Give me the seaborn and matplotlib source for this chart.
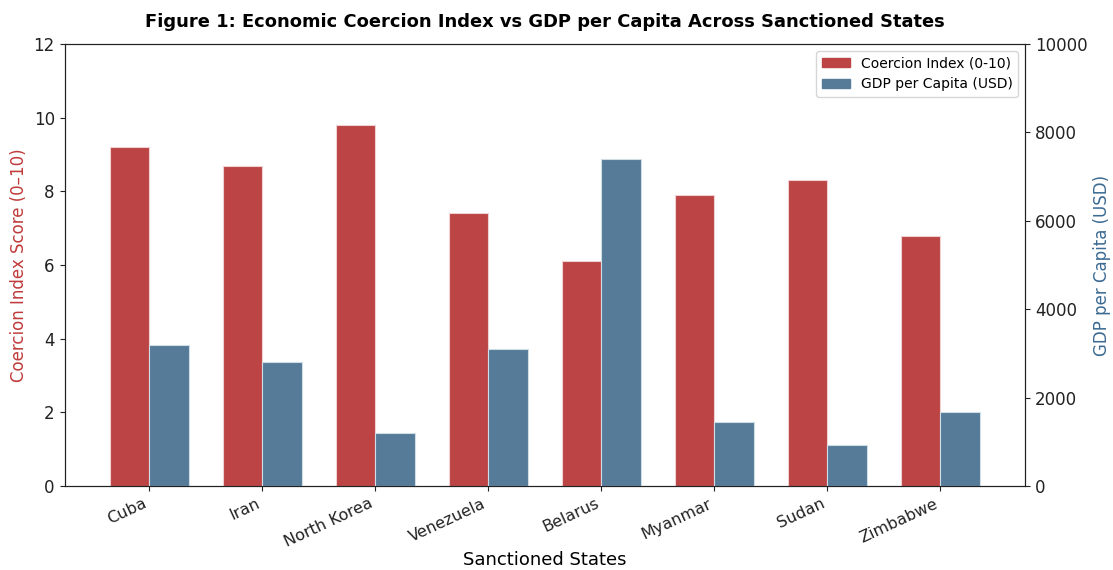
import pandas as pd
import seaborn as sns
import matplotlib.pyplot as plt

# Data
states = ["Cuba", "Iran", "North Korea", "Venezuela", "Belarus", "Myanmar", "Sudan", "Zimbabwe"]
coercion_index = [9.2, 8.7, 9.8, 7.4, 6.1, 7.9, 8.3, 6.8]
gdp_per_capita = [3200, 2800, 1200, 3100, 7400, 1450, 930, 1680]

coercion_label = "Coercion Index (0-10)"
gdp_label = "GDP per Capita (USD)"
red = "#BC4444"
blue = "#557B99"

sns.set_style("ticks")
plt.rcParams["font.family"] = ["DejaVu Sans"]
plt.rcParams["text.color"] = "black"
plt.rcParams["axes.labelcolor"] = "black"
plt.rcParams["xtick.color"] = "#222222"
plt.rcParams["ytick.color"] = "#222222"

coercion_df = pd.DataFrame({"State": states, "Value": coercion_index, "Metric": coercion_label})
gdp_df = pd.DataFrame({"State": states, "Value": gdp_per_capita, "Metric": gdp_label})
hue_order = [coercion_label, gdp_label]
palette = {coercion_label: red, gdp_label: blue}

fig, ax1 = plt.subplots(figsize=(11.13, 5.7), dpi=100)
ax2 = ax1.twinx()

sns.barplot(data=coercion_df, x="State", y="Value", hue="Metric", hue_order=hue_order,
            palette=palette, width=0.7, dodge=True, order=states, ax=ax1,
            saturation=1, edgecolor="#F0D0D0", linewidth=0.8)
sns.barplot(data=gdp_df, x="State", y="Value", hue="Metric", hue_order=hue_order,
            palette=palette, width=0.7, dodge=True, order=states, ax=ax2,
            saturation=1, edgecolor="#D0DCE6", linewidth=0.8)

ax1.set_ylim(0, 12)
ax2.set_ylim(0, 10000)
ax1.set_xlim(-0.75, len(states) - 0.25)
ax2.set_xlim(ax1.get_xlim())

ax1.set_xlabel("Sanctioned States", fontsize=13, labelpad=1)
ax1.set_ylabel("Coercion Index Score (0\u201310)", color="#C03A3A", fontsize=12)
ax2.set_ylabel(gdp_label, color="#3B6A92", fontsize=12)
ax1.tick_params(axis="both", labelsize=12)
ax2.tick_params(axis="y", labelsize=12)
ax1.set_xticks(range(len(states)))
ax1.set_xticklabels(states, rotation=25, ha="right", fontsize=11.5)

for ax in (ax1, ax2):
    for side in ("top", "right", "left", "bottom"):
        ax.spines[side].set_visible(True)
        ax.spines[side].set_color("#222222")

# legend combining both axes
if ax1.get_legend():
    ax1.get_legend().remove()
if ax2.get_legend():
    ax2.get_legend().remove()
handles = [plt.Rectangle((0, 0), 1, 1, color=red), plt.Rectangle((0, 0), 1, 1, color=blue)]
ax2.legend(handles, hue_order, loc="upper right", fontsize=10)

ax1.set_title("Figure 1: Economic Coercion Index vs GDP per Capita Across Sanctioned States",
              fontsize=12.9, fontweight="bold", pad=12)

fig.subplots_adjust(left=0.058, right=0.921, top=0.923, bottom=0.147)
plt.savefig("out.png", dpi=100)
